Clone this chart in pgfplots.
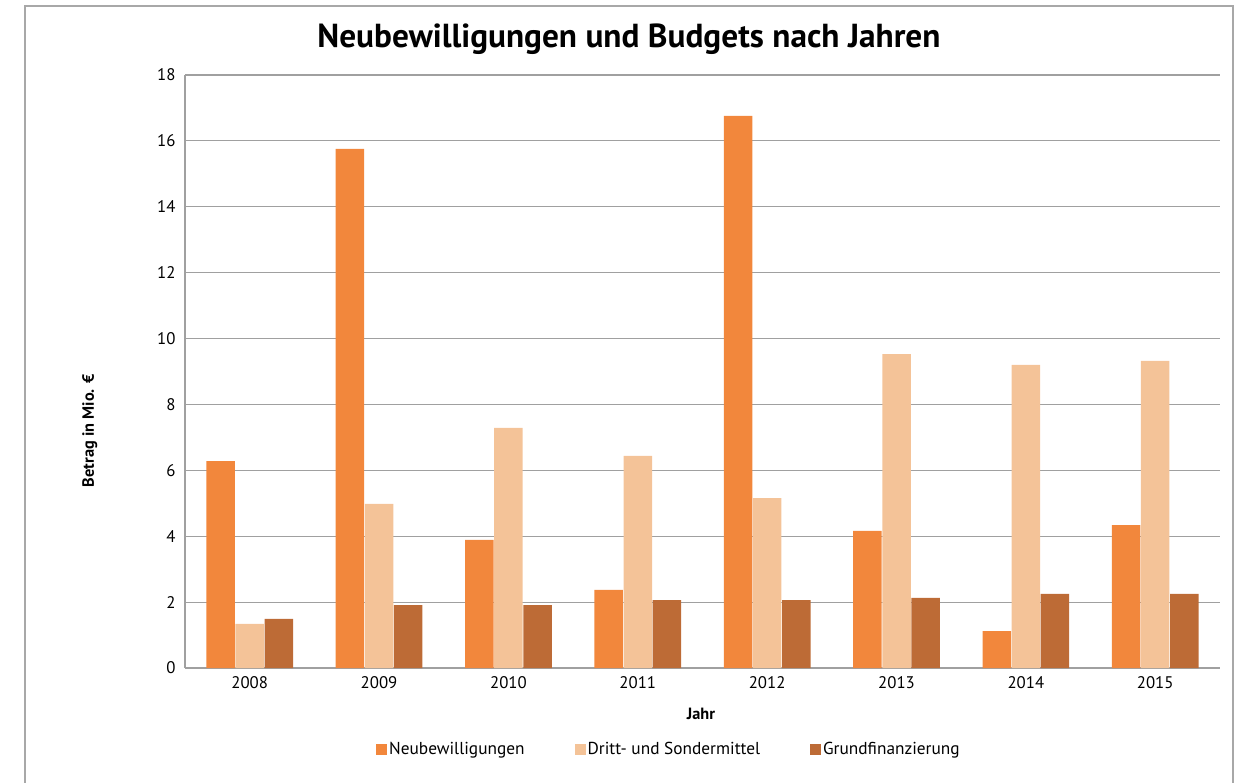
\documentclass[border=0pt]{standalone}
\usepackage{fontspec}
\setmainfont{PT Sans}
\usepackage{pgfplots}
\pgfplotsset{compat=1.18}
\definecolor{cA}{HTML}{F2873C}
\definecolor{cB}{HTML}{F4C398}
\definecolor{cC}{HTML}{BD6B36}
\definecolor{gridc}{HTML}{A0A0A0}
\definecolor{framec}{HTML}{A8A8A8}
\begin{document}
\begin{tikzpicture}[x=1pt,y=1pt]
\path[use as bounding box] (0,0) rectangle (1246,782);
\draw[framec,line width=1.5pt] (25,-5) -- (25,776) -- (1233,776) -- (1233,-5);
\node[font=\fontsize{33.3}{36}\selectfont\bfseries] at (629,743) {Neubewilligungen und Budgets nach Jahren};
\begin{axis}[
  at={(185pt,114pt)}, anchor=south west,
  scale only axis, width=1035pt, height=593pt,
  ymin=0, ymax=18, ytick={0,2,...,18},
  xmin=-0.5, xmax=7.5, xtick={0,...,7},
  xticklabels={2008,2009,2010,2011,2012,2013,2014,2015},
  axis x line*=bottom, axis y line*=left,
  x axis line style={gridc,line width=2pt,-},
  y axis line style={gridc,line width=1.2pt,-},
  major tick length=0pt,
  ymajorgrids, grid style={gridc,line width=1.2pt},
  /pgf/number format/assume math mode=true,
  tick label style={font=\fontsize{16.8}{18}\selectfont, black},
  yticklabel style={xshift=-6pt},
  xticklabel style={yshift=-5pt},
  xlabel={\textbf{Jahr}}, ylabel={\textbf{Betrag in Mio. €}},
  label style={font=\fontsize{16.3}{18}\selectfont},
  xlabel style={at={(axis description cs:0.4985,-0.0775)},anchor=center},
  ylabel style={at={(axis description cs:-0.092,0.4)},anchor=center},
  ybar=0.6pt, bar width=28.5pt,
  legend columns=3,
  legend style={at={(axis description cs:0.4676,-0.1366)},anchor=center,draw=none,
    font=\fontsize{17.3}{18}\selectfont,
    /tikz/every even column/.append style={column sep=48pt}},
  legend image code/.code={\fill[#1] (0pt,-5.5pt) rectangle (11pt,5.5pt);},
]
\addplot[fill=cA,draw=none] coordinates {(0,6.28) (1,15.76) (2,3.89) (3,2.37) (4,16.76) (5,4.16) (6,1.12) (7,4.34)};
\addplot[fill=cB,draw=none] coordinates {(0,1.34) (1,4.98) (2,7.29) (3,6.44) (4,5.16) (5,9.53) (6,9.20) (7,9.32)};
\addplot[fill=cC,draw=none] coordinates {(0,1.49) (1,1.91) (2,1.91) (3,2.06) (4,2.06) (5,2.13) (6,2.25) (7,2.25)};
\legend{Neubewilligungen, Dritt- und Sondermittel, Grundfinanzierung}
\end{axis}
\end{tikzpicture}
\end{document}
